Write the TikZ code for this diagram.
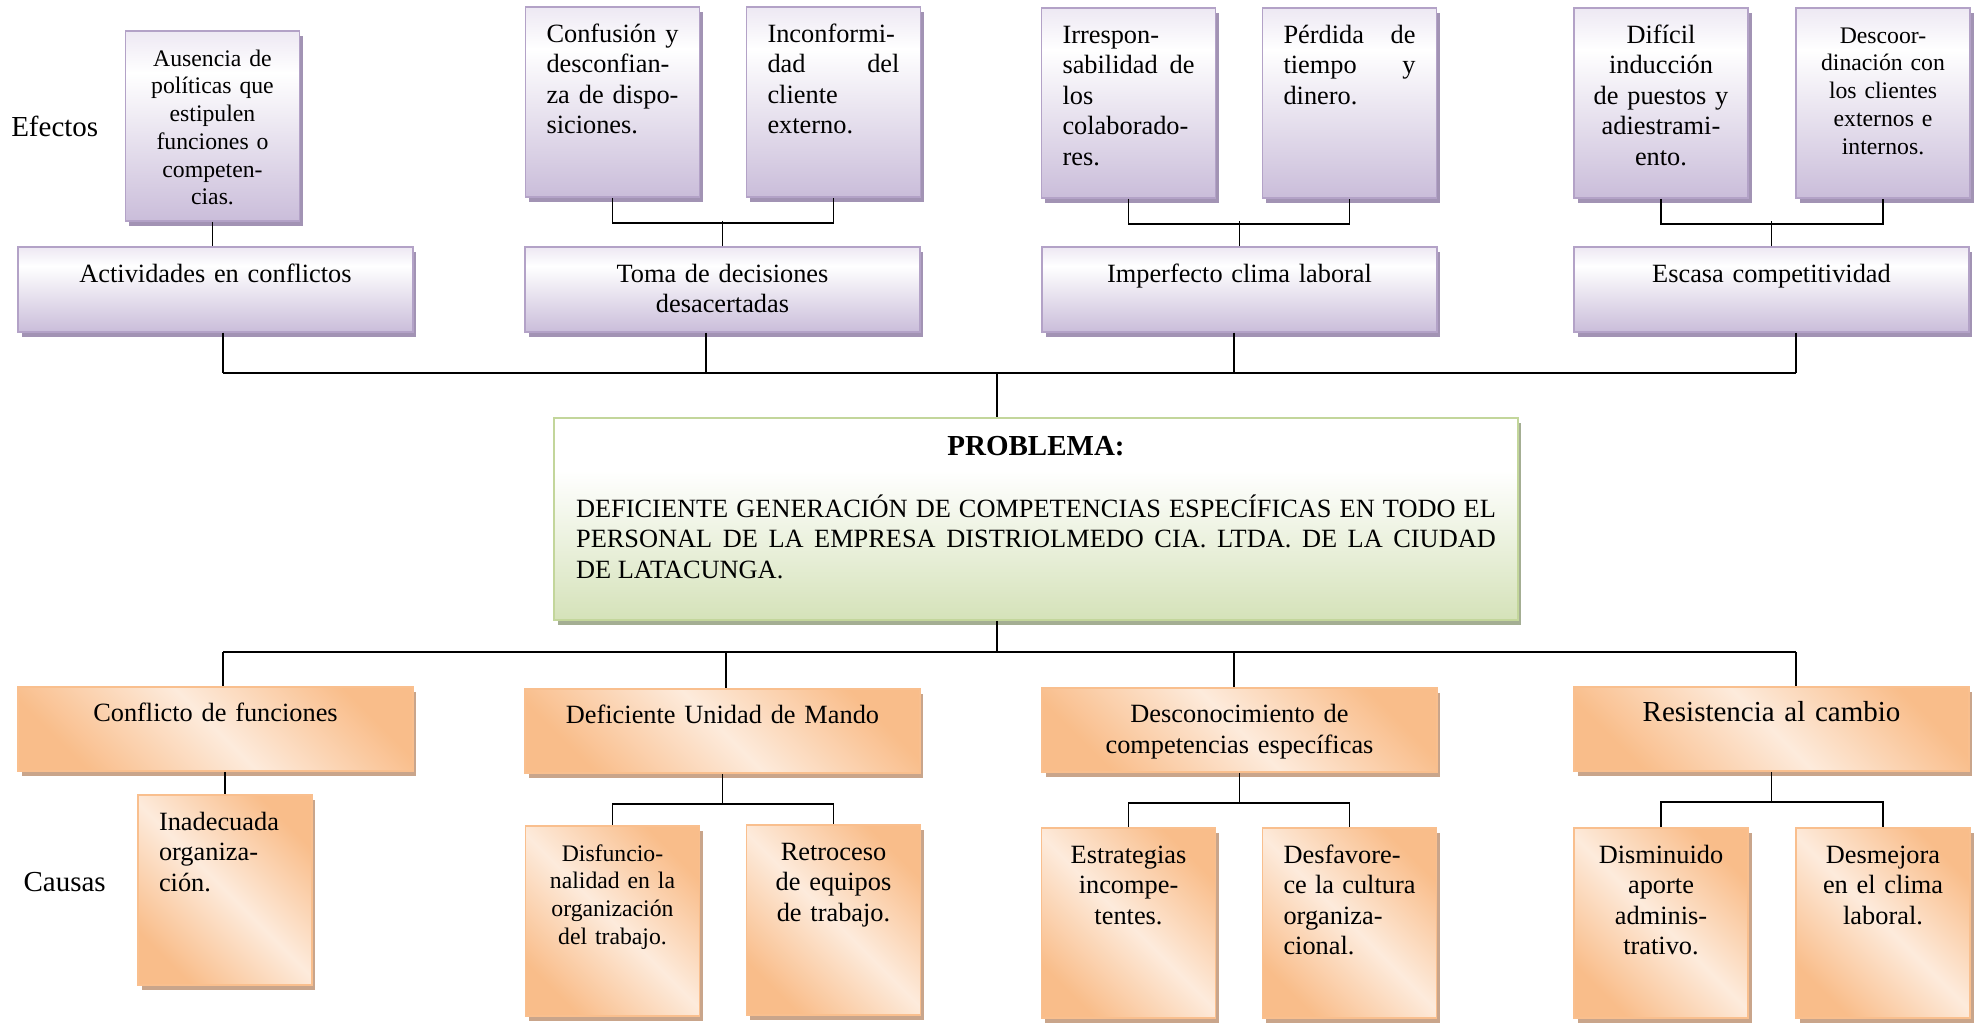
\documentclass[tikz,border=0pt]{standalone}
\usepackage{fontspec}
\setmainfont{Liberation Serif}
\usetikzlibrary{positioning, shadows}
\definecolor{lilaB}{HTML}{B3A2C7}
\definecolor{lilaD}{HTML}{CABDDA}
\definecolor{lilaT}{HTML}{EDE8F3}
\definecolor{lilaS}{HTML}{A293B4}
\definecolor{naranjaB}{HTML}{F9BF8E}
\definecolor{naranjaD}{HTML}{F9BD8A}
\definecolor{naranjaL}{HTML}{FDEBDC}
\definecolor{naranjaS}{HTML}{C9A58B}
\definecolor{verdeB}{HTML}{C3D69B}
\definecolor{verdeD}{HTML}{D5E2B9}
\definecolor{verdeS}{HTML}{A4AE93}
\pgfdeclareverticalshading{lilashade}{100bp}{color(0bp)=(lilaD); color(25bp)=(lilaD);
  color(64bp)=(white); color(75bp)=(lilaT); color(100bp)=(lilaT)}
\pgfdeclareverticalshading{verdeshade}{100bp}{color(0bp)=(verdeD); color(25bp)=(verdeD);
  color(62bp)=(white); color(100bp)=(white)}
\newcommand{\letranormal}{\fontsize{15pt}{17.4pt}\selectfont}
\newcommand{\letrapeq}{\fontsize{13.5pt}{15.8pt}\selectfont}
\newcommand{\letrarotulo}{\fontsize{16.5pt}{19pt}\selectfont}
\frenchspacing

\begin{document}
\begin{tikzpicture}[x=0.02cm, y=-0.02cm,
    caja/.style={line width=1.1pt, inner ysep=0.25cm, text height=0.45cm},
    lila/.style={caja, draw=lilaB, shade, shading=lilashade,
                 drop shadow={shadow xshift=0.07cm, shadow yshift=-0.1cm, fill=lilaS, opacity=1}},
    naranja/.style={caja, draw=naranjaB, top color=naranjaD, bottom color=naranjaD,
                 middle color=naranjaL, shading angle=-45,
                 drop shadow={shadow xshift=0.07cm, shadow yshift=-0.1cm, fill=naranjaS, opacity=1}},
    ancho/.style={text width=7.5cm, inner xsep=0.2cm, align=center, font=\letranormal,
                 text depth=0.74cm},
    chico/.style={text width=2.64cm, inner xsep=0.42cm, font=\letranormal, text depth=2.85cm},
    link/.style={line width=1.1pt, black},
    rotulo/.style={font=\letrarotulo, inner sep=0pt}
  ]
  \useasboundingbox (0,0) rectangle (1981,1022);

  % ── Efectos: causas secundarias ──
  \node[lila, chico, font=\letrapeq, align=center] (e1a) at (212.5,126)
    {Ausencia de\\políticas que\\estipulen\\funciones o\\competen-\\cias.};
  \node[lila, chico, align=left] (e2a) at (612.5,102)
    {Confusión\hfill y\\desconfian-\\za\hfill de\hfill dispo-\\siciones.};
  \node[lila, chico, align=left] (e2b) at (833.5,102)
    {Inconformi-\\dad\hfill del\\cliente\\externo.};
  \node[lila, chico, align=left] (e3a) at (1128.5,103)
    {Irrespon-\\sabilidad\hfill de\\los\\colaborado-\\res.};
  \node[lila, chico, align=left] (e3b) at (1349.5,103)
    {Pérdida\hfill de\\tiempo\hfill y\\dinero.};
  \node[lila, chico, text width=2.9cm, inner xsep=0.29cm, align=center] (e4a) at (1661,103)
    {Difícil\\inducción\\de puestos y\\adiestrami-\\ento.};
  \node[lila, chico, font=\letrapeq, align=center] (e4b) at (1883,103)
    {Descoor-\\dinación con\\los clientes\\externos e\\internos.};

  % ── Efectos ──
  \node[lila, ancho] (e1) at (215.5,289.5)  {Actividades en conflictos};
  \node[lila, ancho] (e2) at (722.5,289.5)  {Toma de decisiones\\desacertadas};
  \node[lila, ancho] (e3) at (1239.5,289.5) {Imperfecto clima laboral};
  \node[lila, ancho] (e4) at (1771.5,289.5) {Escasa competitividad};

  \node[rotulo, left=0.52cm of e1a] (efectos) {Efectos};

  % ── Problema ──
  \node[caja, draw=verdeB, shade, shading=verdeshade,
        drop shadow={shadow xshift=0.07cm, shadow yshift=-0.1cm, fill=verdeS, opacity=1},
        text width=18.4cm, inner xsep=0.44cm, inner ysep=0.32cm, text height=0.42cm,
        text depth=2.98cm, font=\letranormal, align=justify] (prob) at (1036,519)
    {{\centering\letrarotulo\bfseries PROBLEMA:\par}\vspace{18pt}\noindent
     DEFICIENTE GENERACIÓN DE COMPETENCIAS ESPECÍFICAS EN TODO EL\linebreak
     PERSONAL DE LA EMPRESA DISTRIOLMEDO CIA. LTDA. DE LA CIUDAD\linebreak
     DE LATACUNGA.};

  % ── Causas ──
  \node[naranja, ancho] (c1) at (215.5,729)  {Conflicto de funciones};
  \node[naranja, ancho] (c2) at (722.5,731)  {Deficiente Unidad de Mando};
  \node[naranja, ancho] (c3) at (1239.5,730) {Desconocimiento de\\competencias específicas};
  \node[naranja, ancho, font=\letrarotulo] (c4) at (1771.5,729) {Resistencia al cambio};

  % ── Causas: subcausas ──
  \node[naranja, chico, align=left] (c1a) at (225,890)
    {Inadecuada\\organiza-\\ción.};
  \node[naranja, chico, font=\letrapeq, align=center] (c2a) at (612.5,921)
    {Disfuncio-\\nalidad en la\\organización\\del trabajo.};
  \node[naranja, chico, align=center] (c2b) at (833.5,920)
    {Retroceso\\de equipos\\de trabajo.};
  \node[naranja, chico, align=center] (c3a) at (1128.5,923)
    {Estrategias\\incompe-\\tentes.};
  \node[naranja, chico, align=left] (c3b) at (1349.5,923)
    {Desfavore-\\ce\hfill la\hfill cultura\\organiza-\\cional.};
  \node[naranja, chico, align=center] (c4a) at (1661,923)
    {Disminuido\\aporte\\adminis-\\trativo.};
  \node[naranja, chico, align=center] (c4b) at (1883,923)
    {Desmejora\\en el clima\\laboral.};

  \node[rotulo, left=0.62cm of c1a, yshift=0.16cm] (causas) {Causas};

  % ── Conectores superiores ──
  \draw[link] (e1a.south) -- (e1a.south |- e1.north);
  \foreach \p/\a/\b in {e2/e2a/e2b, e3/e3a/e3b, e4/e4a/e4b}{
    \draw[link] (\a.south) -- ++(0,25) -| (\b.south);
    \draw[link] (\p.north) -- ++(0,-25);
  }

  \coordinate (bs1) at (223,373);
  \coordinate (bs2) at (706,373);
  \coordinate (bs3) at (1234,373);
  \coordinate (bs4) at (1796,373);
  \coordinate (bsm) at (997,373);
  \foreach \n in {1,...,4}
    \draw[link] (e\n.south -| bs\n) -- (bs\n);
  \draw[link] (bs1) -- (bs4);
  \draw[link] (bsm) -- (bsm |- prob.north);

  % ── Conectores inferiores ──
  \coordinate (bi1) at (223,652);
  \coordinate (bi2) at (726,652);
  \coordinate (bi3) at (1234,652);
  \coordinate (bi4) at (1796,652);
  \coordinate (bim) at (997,652);
  \draw[link] (prob.south -| bim) -- (bim);
  \draw[link] (bi1) -- (bi4);
  \foreach \n in {1,...,4}
    \draw[link] (bi\n) -- (c\n.north -| bi\n);

  \draw[link] (c1.south -| c1a.north) -- (c1a.north);
  \foreach \p/\a/\b in {c2/c2a/c2b, c3/c3a/c3b, c4/c4a/c4b}{
    \draw[link] (\p.south) -- ++(0,30) coordinate (\p-j);
    \draw[link] (\a.north) |- (\p-j) -| (\b.north);
  }
\end{tikzpicture}
\end{document}
